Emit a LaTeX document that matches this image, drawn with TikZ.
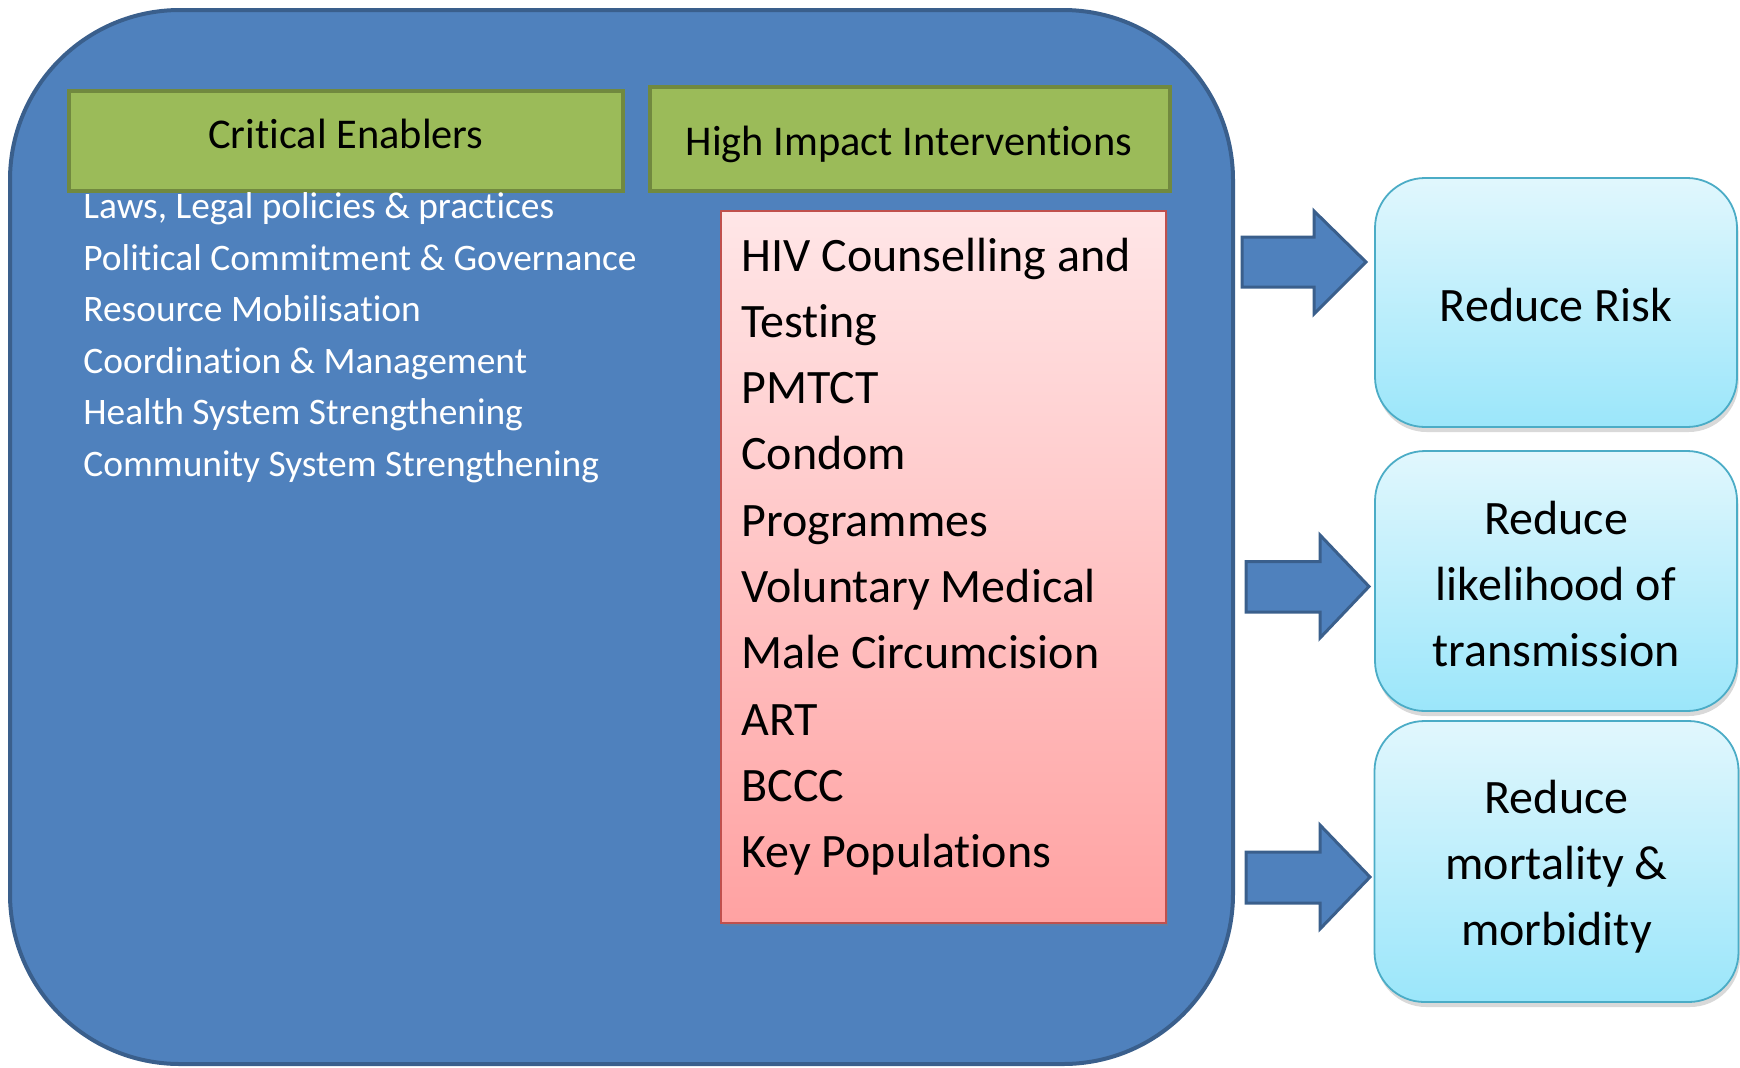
\documentclass[tikz,border=0pt]{standalone}
\usepackage{fontspec}
\setmainfont[Ligatures={NoCommon,NoRequired,NoContextual},RawFeature={-calt}]{Carlito}
\usetikzlibrary{shadows}
\definecolor{panelfill}{HTML}{4F81BD}
\definecolor{paneldraw}{HTML}{3A5F8C}
\definecolor{greenfill}{HTML}{9BBB59}
\definecolor{greendraw}{HTML}{71893F}
\definecolor{pinktop}{HTML}{FFE6E7}
\definecolor{pinkbot}{HTML}{FFA2A2}
\definecolor{pinkdraw}{HTML}{C0504D}
\definecolor{cyantop}{HTML}{E1F7FD}
\definecolor{cyanbot}{HTML}{9BE6FA}
\definecolor{cyandraw}{HTML}{4BACC6}
\begin{document}
\begin{tikzpicture}[x=0.5pt,y=-0.5pt,
  panel/.style={draw=paneldraw, fill=panelfill, line width=2pt, rounded corners=85pt, inner sep=0pt},
  header/.style={draw=greendraw, fill=greenfill, line width=2pt, inner sep=0pt},
  headtext/.style={font=\fontsize{21.2}{25}\selectfont, inner sep=0pt},
  enabler/.style={font=\fontsize{18.7}{22}\selectfont, text=white, inner sep=0pt, anchor=base west},
  hibox/.style={draw=pinkdraw, line width=0.8pt, top color=pinktop, bottom color=pinkbot, inner sep=0pt,
     drop shadow={shadow xshift=1.2pt, shadow yshift=-1.5pt, opacity=0.35}},
  hitext/.style={font=\fontsize{24}{33}\selectfont, inner sep=0pt, anchor=base west},
  outbox/.style={draw=cyandraw, line width=0.9pt, top color=cyantop, bottom color=cyanbot, rounded corners=25pt,
     inner sep=0pt, drop shadow={shadow xshift=0.8pt, shadow yshift=-2.5pt, opacity=0.3}},
  outtext/.style={inner sep=0pt, align=center, font=\fontsize{24}{33}\selectfont},
  blockarrow/.style={draw=paneldraw, fill=panelfill, line width=1.5pt, line join=miter}
]
\useasboundingbox (0,0) rectangle (1740,1067);

% main panel
\node[panel, minimum width=611.5pt, minimum height=527pt] (panel) at (621.5,537) {};

% headers
\node[header, minimum width=277pt, minimum height=50pt] (ce) at (346,141) {};
\node[headtext] (ceT) at (346,134) {Critical Enablers};
\node[header, minimum width=260pt, minimum height=52pt] (hii) at (910,139) {};
\node[headtext] (hiiT) at (909,144) {High Impact Interventions};

% critical enablers list
\foreach \t [count=\i from 0] in {{Laws, Legal policies \& practices},{Political Commitment \& Governance},{Resource Mobilisation},{Coordination \& Management},{Health System Strengthening},{Community System Strengthening}}
  \node[enabler] (en\i) at (83,{218.5+51.5*\i}) {\t};

% high impact interventions list
\node[hibox, minimum width=222.5pt, minimum height=356pt] (hilist) at (943.5,567) {};
\foreach \t [count=\i from 0] in {{HIV Counselling and},{Testing},{PMTCT},{Condom},{Programmes},{Voluntary Medical},{Male Circumcision},{ART},{BCCC},{Key Populations}}
  \node[hitext] (hi\i) at (741,{271+66.3*\i}) {\t};

% outcome boxes
\node[outbox, minimum width=181pt, minimum height=124.5pt] (risk) at (1556,302.5) {};
\node[outtext] (riskT) at (1556,305) {Reduce Risk};
\node[outbox, minimum width=181pt, minimum height=130pt] (trans) at (1556,581) {};
\node[outtext] (transT) at (1556,584) {Reduce\\likelihood of\\transmission};
\node[outbox, minimum width=182pt, minimum height=140.5pt] (mort) at (1556.5,861.5) {};
\node[outtext] (mortT) at (1556.5,867) {Reduce\\mortality \&\\morbidity};

% block arrows
\draw[blockarrow] (1242,237) -- (1314,237) -- (1314,211) -- (1366,262) -- (1314,314) -- (1314,287) -- (1242,287) -- cycle;
\draw[blockarrow] (1246,561.5) -- (1320,561.5) -- (1320,535) -- (1369,586.5) -- (1320,638) -- (1320,612) -- (1246,612) -- cycle;
\draw[blockarrow] (1246,852) -- (1320,852) -- (1320,825) -- (1370,877) -- (1320,929) -- (1320,903) -- (1246,903) -- cycle;
\end{tikzpicture}
\end{document}
